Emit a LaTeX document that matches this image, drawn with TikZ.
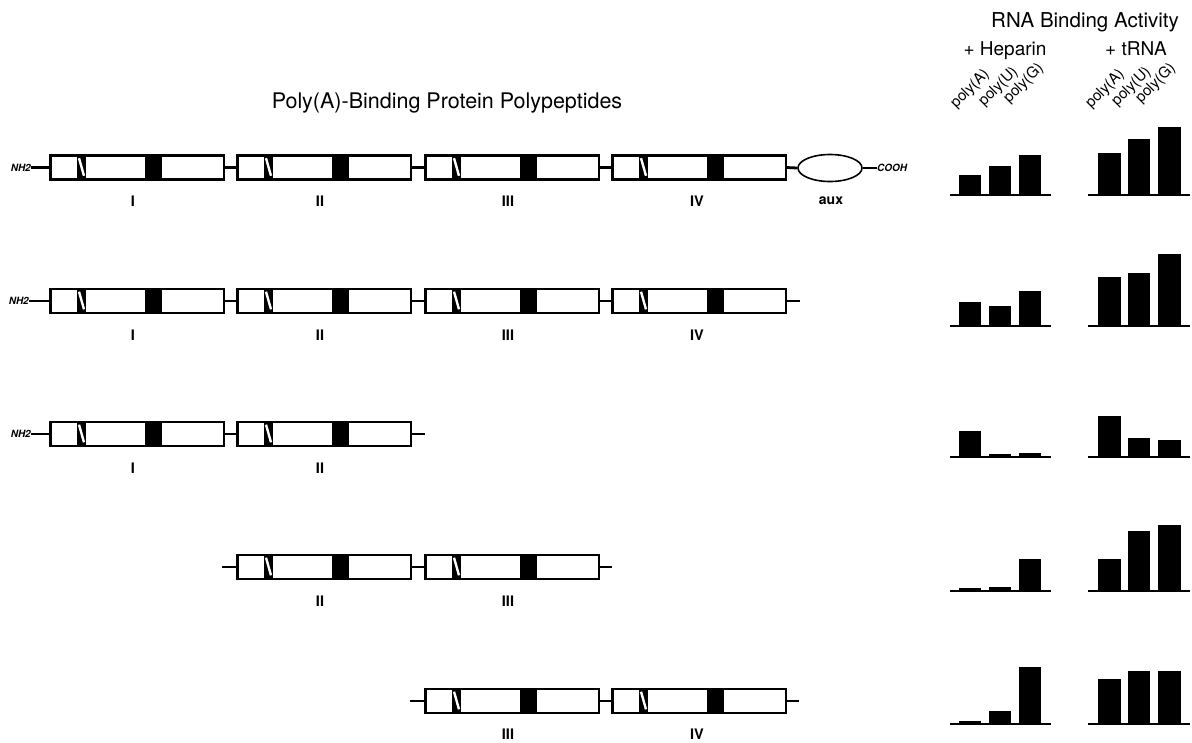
\documentclass[tikz,border=0pt]{standalone}
\usepackage{fontspec}
\setmainfont{TeX Gyre Heros}
\usetikzlibrary{shapes.geometric}
\newcommand\mydom[3]{%
  \node[dombox] (#1) at (#2,#3) {};
  \fill[black] ([xshift=27pt]#1.north west) rectangle ([xshift=36pt]#1.south west);
  \draw[white, line width=2.4pt] ([xshift=29pt,yshift=-3pt]#1.north west) -- ([xshift=34pt,yshift=4pt]#1.south west);
  \fill[black] ([xshift=95pt]#1.north west) rectangle ([xshift=112pt]#1.south west);
  \draw[line width=1.6pt] (#1.north west) rectangle (#1.south east);
}
\newcommand\mybars[7]{%
  \draw[baseln] (950,#1) -- (1051,#1);
  \draw[baseln] (1088,#1) -- (1190,#1);
  \fill (959,#1) rectangle (981,#1-#2);
  \fill (989,#1) rectangle (1011,#1-#3);
  \fill (1019,#1) rectangle (1041,#1-#4);
  \fill (1098,#1) rectangle (1121,#1-#5);
  \fill (1128,#1) rectangle (1150,#1-#6);
  \fill (1158,#1) rectangle (1181,#1-#7);
}
\begin{document}
\begin{tikzpicture}[x=1pt,y=-1pt,
  dombox/.style={draw, line width=1.6pt, minimum width=173pt, minimum height=23pt, inner sep=0pt, anchor=west, fill=white},
  link/.style={line width=2.8pt},
  thinlink/.style={line width=1.6pt},
  baseln/.style={line width=2pt},
  numlbl/.style={font=\fontsize{14.5}{16}\selectfont\bfseries, inner sep=0pt},
  term/.style={font=\fontsize{10}{12}\selectfont\bfseries\itshape, inner sep=0pt},
  rot/.style={rotate=45, anchor=base west, inner sep=0pt, font=\fontsize{15}{17}\selectfont},
  hdr/.style={font=\fontsize{19}{22}\selectfont, inner sep=0pt, anchor=base}]
\useasboundingbox (0,0) rectangle (1192,742);

% title and header
\node[font=\fontsize{21.5}{24}\selectfont, inner sep=0pt] (title) at (447,103) {Poly(A)-Binding Protein Polypeptides};
\node[hdr, font=\fontsize{20.5}{24}\selectfont] (rba) at (1085,27) {RNA Binding Activity};
\node[hdr] (hep) at (1005,55) {+ Heparin};
\node[hdr] (trna) at (1136,55) {+ tRNA};
\node[rot] (pa1) at (956,109) {poly(A)};
\node[rot] (pu1) at (984,107) {poly(U)};
\node[rot] (pg1) at (1009,104) {poly(G)};
\node[rot] (pa2) at (1091,109) {poly(A)};
\node[rot] (pu2) at (1117,107) {poly(U)};
\node[rot] (pg2) at (1141,104) {poly(G)};

% row 1
\node[term, anchor=east] (nh1) at (31,167.5) {NH2};
\mydom{a1}{50}{167.5}
\mydom{a2}{237}{167.5}
\mydom{a3}{425}{167.5}
\mydom{a4}{612}{167.5}
\node[draw, ellipse, line width=1.6pt, minimum width=64pt, minimum height=27pt, inner sep=0pt] (aux) at (830,168) {};
\node[term, anchor=west] (cooh) at (877,168) {COOH};
\draw[link] (nh1.east) -- (a1.west);
\draw[link] (a1.east) -- (a2.west);
\draw[link] (a2.east) -- (a3.west);
\draw[link] (a3.east) -- (a4.west);
\draw[link] (a4.east) -- (aux.west);
\draw[link] (aux.east) -- (cooh.west);
\node[numlbl] (la1) at (133,201) {I};
\node[numlbl] (la2) at (320,201) {II};
\node[numlbl] (la3) at (508,201) {III};
\node[numlbl] (la4) at (697,201) {IV};
\node[numlbl, font=\fontsize{14}{16}\selectfont\bfseries] (laux) at (831,201) {aux};

% row 2
\node[term, anchor=east] (nh2) at (29,301) {NH2};
\mydom{b1}{50}{301}
\mydom{b2}{237}{301}
\mydom{b3}{425}{301}
\mydom{b4}{612}{301}
\coordinate (b5) at (800,301);
\draw[thinlink] (nh2.east) -- (b1.west);
\draw[link] (b1.east) -- (b2.west);
\draw[link] (b2.east) -- (b3.west);
\draw[link] (b3.east) -- (b4.west);
\draw[link] (b4.east) -- (b5);
\node[numlbl] (lb1) at (133,335) {I};
\node[numlbl] (lb2) at (320,335) {II};
\node[numlbl] (lb3) at (508,335) {III};
\node[numlbl] (lb4) at (697,335) {IV};

% row 3
\node[term, anchor=east] (nh3) at (31,434) {NH2};
\mydom{c1}{50}{434}
\mydom{c2}{237}{434}
\coordinate (c3) at (425,434);
\draw[link] (nh3.east) -- (c1.west);
\draw[link] (c1.east) -- (c2.west);
\draw[link] (c2.east) -- (c3);
\node[numlbl] (lc1) at (133,468) {I};
\node[numlbl] (lc2) at (320,468) {II};

% row 4
\coordinate (d0) at (222,567);
\mydom{d1}{237}{567}
\mydom{d2}{425}{567}
\coordinate (d3) at (612,567);
\draw[link] (d0) -- (d1.west);
\draw[link] (d1.east) -- (d2.west);
\draw[link] (d2.east) -- (d3);
\node[numlbl] (ld1) at (320,601) {II};
\node[numlbl] (ld2) at (508,601) {III};

% row 5
\coordinate (e0) at (410,701);
\mydom{e1}{425}{701}
\mydom{e2}{612}{701}
\coordinate (e3) at (799,701);
\draw[link] (e0) -- (e1.west);
\draw[link] (e1.east) -- (e2.west);
\draw[link] (e2.east) -- (e3);
\node[numlbl] (le1) at (508,734) {III};
\node[numlbl] (le2) at (697,734) {IV};

% bar charts
\mybars{195}{20}{29}{40}{42}{56}{68}
\mybars{326}{24}{20}{35}{49}{53}{72}
\mybars{457}{26}{3}{4}{41}{19}{17}
\mybars{591}{3}{4}{32}{32}{60}{66}
\mybars{724}{3}{13}{57}{45}{53}{53}
\end{tikzpicture}
\end{document}
